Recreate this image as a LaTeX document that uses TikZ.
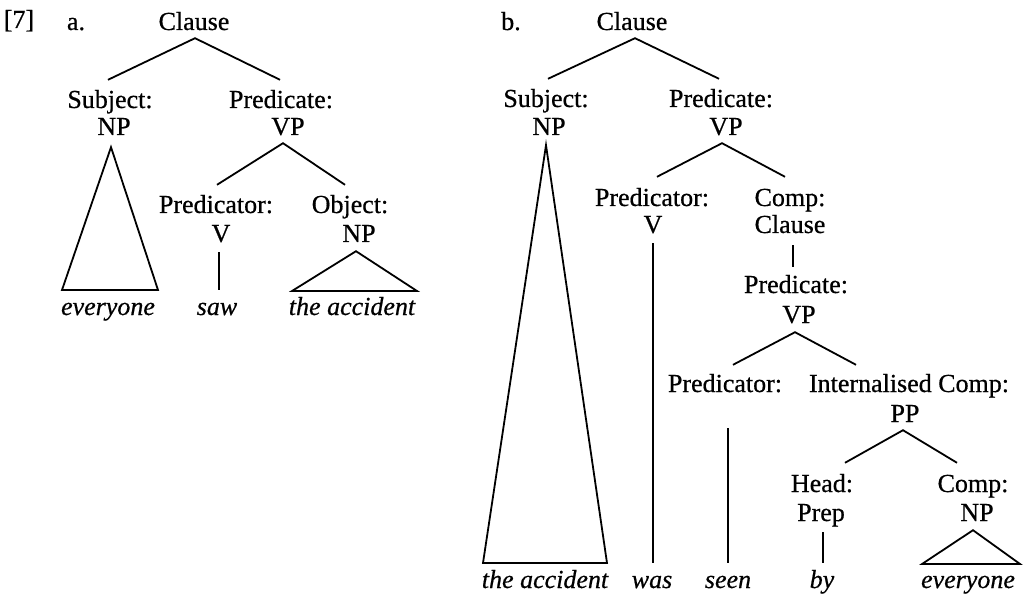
\documentclass[tikz,border=0pt]{standalone}
\usepackage{fontspec}
\setmainfont{Liberation Serif}[FakeBold=0.6]
\begin{document}
\begin{tikzpicture}[x=1pt,y=-1pt,
  lbl/.style={anchor=base, inner sep=0pt, text height=18pt, text depth=6pt, font=\fontsize{26}{28}\selectfont},
  word/.style={lbl, font=\fontsize{26}{28}\selectfont\itshape},
  br/.style={line width=1.8pt, line join=miter}]
\path[fill=white, use as bounding box] (0,0) rectangle (1028,596);

% ---------- labels ----------
\node[lbl] (n7) at (19,28) {[7]};
\node[lbl] (alab) at (76,30) {a.};
\node[lbl] (blab) at (511,30) {b.};

% ---------- tree a ----------
\node[lbl] (aclause) at (194,30) {Clause};
\node[lbl] (asubj) at (110,108) {Subject:};
\node[lbl] (anp) at (114,135) {NP};
\node[lbl] (apred) at (281,108) {Predicate:};
\node[lbl] (avp) at (288,135) {VP};
\node[lbl] (aprdr) at (216,213) {Predicator:};
\node[lbl] (av) at (221,242) {V};
\node[lbl] (aobj) at (350,213) {Object:};
\node[lbl] (aonp) at (359,242) {NP};
\node[word] (aw1) at (108,315) {everyone};
\node[word] (aw2) at (217,315) {saw};
\node[word] (aw3) at (352,315) {the accident};

\coordinate (at1l) at (62,290);
\coordinate (at1r) at (158,290);
\coordinate (at2l) at (292,291);
\coordinate (at2r) at (417,291);

\draw[br] ([xshift=-2pt,yshift=10pt]asubj.north) -- ([xshift=1pt,yshift=-2pt]aclause.south) -- ([xshift=-1pt,yshift=10pt]apred.north);
\draw[br] ([xshift=1pt,yshift=10pt]aprdr.north) -- ([xshift=-5pt,yshift=-2pt]avp.south) -- ([xshift=-5pt,yshift=10pt]aobj.north);
\draw[br] ([xshift=-3pt,yshift=-6pt]anp.south) -- (at1l) -- (at1r) -- cycle;
\draw[br] ([xshift=-2pt,yshift=-4pt]av.south) -- ([xshift=2pt,yshift=7pt]aw2.north);
\draw[br] ([xshift=-3pt,yshift=-3pt]aonp.south) -- (at2l) -- (at2r) -- cycle;

% ---------- tree b ----------
\node[lbl] (bclause) at (632,30) {Clause};
\node[lbl] (bsubj) at (546,107) {Subject:};
\node[lbl] (bnp) at (549,135) {NP};
\node[lbl] (bpred) at (721,107) {Predicate:};
\node[lbl] (bvp) at (726,135) {VP};
\node[lbl] (bprdr) at (652,206) {Predicator:};
\node[lbl] (bv) at (653,233) {V};
\node[lbl] (bcomp) at (790,206) {Comp:};
\node[lbl] (bcclause) at (790,233) {Clause};
\node[lbl] (bpred2) at (796,293) {Predicate:};
\node[lbl] (bvp2) at (799,323) {VP};
\node[lbl] (bprdr2) at (725,392) {Predicator:};
\node[lbl] (bicomp) at (909,392) {Internalised Comp:};
\node[lbl] (bpp) at (905,422) {PP};
\node[lbl] (bhead) at (822,492) {Head:};
\node[lbl] (bprep) at (821,521) {Prep};
\node[lbl] (bcomp2) at (973,492) {Comp:};
\node[lbl] (bnp2) at (977,521) {NP};
\node[word] (bw1) at (545,588) {the accident};
\node[word] (bw2) at (652,588) {was};
\node[word] (bw3) at (728,588) {seen};
\node[word] (bw4) at (822,588) {by};
\node[word] (bw5) at (968,588) {everyone};

\coordinate (bt1l) at (483,563);
\coordinate (bt1r) at (607,563);
\coordinate (bt2l) at (922,564);
\coordinate (bt2r) at (1020,564);

\draw[br] ([xshift=2pt,yshift=10pt]bsubj.north) -- ([xshift=3pt,yshift=-2pt]bclause.south) -- ([xshift=-2pt,yshift=10pt]bpred.north);
\draw[br] ([xshift=5pt,yshift=11pt]bprdr.north) -- ([xshift=-4pt,yshift=-2pt]bvp.south) -- ([xshift=-5pt,yshift=11pt]bcomp.north);
\draw[br] ([xshift=-3pt,yshift=-4pt]bnp.south) -- (bt1l) -- (bt1r) -- cycle;
\draw[br] ([yshift=-4pt]bv.south) -- ([xshift=1pt,yshift=7pt]bw2.north);
\draw[br] ([xshift=3pt,yshift=-6pt]bcclause.south) -- ([xshift=-3pt,yshift=8pt]bpred2.north);
\draw[br] ([xshift=8pt,yshift=9pt]bprdr2.north) -- ([xshift=-4pt,yshift=-3pt]bvp2.south) -- ([xshift=-53pt,yshift=9pt]bicomp.north);
\draw[br] ([xshift=3pt,yshift=-30pt]bprdr2.south) -- ([yshift=7pt]bw3.north);
\draw[br] ([xshift=23pt,yshift=11pt]bhead.north) -- ([xshift=-2pt,yshift=-2pt]bpp.south) -- ([xshift=-16pt,yshift=11pt]bcomp2.north);
\draw[br] ([xshift=2pt,yshift=-5pt]bprep.south) -- ([xshift=1pt,yshift=7pt]bw4.north);
\draw[br] ([xshift=-4pt,yshift=-3pt]bnp2.south) -- (bt2l) -- (bt2r) -- cycle;
\end{tikzpicture}
\end{document}
